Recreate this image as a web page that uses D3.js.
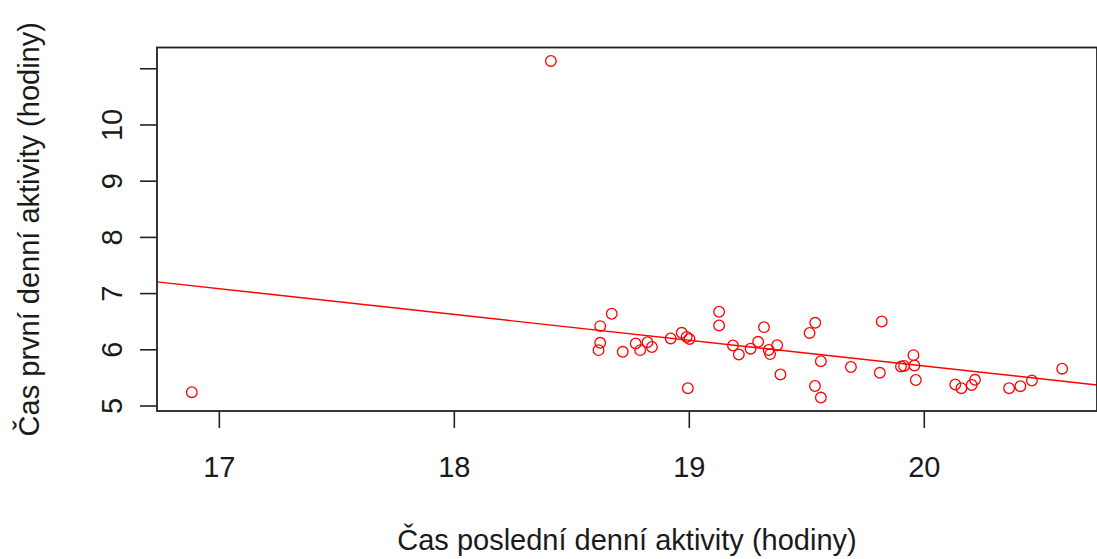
<!DOCTYPE html>
<html>
<head>
<meta charset="utf-8">
<script src="https://cdn.jsdelivr.net/npm/d3@7/dist/d3.min.js"></script>
<style>
  html, body { margin: 0; padding: 0; background: #fff; }
  svg { display: block; }
  text { font-family: "Liberation Sans", Arial, sans-serif; fill: #1a1a1a; }
</style>
</head>
<body>
<svg id="chart" width="1097" height="559"></svg>
<script>
// Time of last daily activity (hours)
const lastActivity = [
  16.885, 18.413, 18.616, 18.623, 18.623, 18.672, 18.719, 18.774, 18.793, 18.824,
  18.843, 18.923, 18.970, 18.991, 19.003, 18.996, 19.129, 19.129, 19.188, 19.213,
  19.263, 19.295, 19.320, 19.340, 19.346, 19.376, 19.390, 19.514, 19.538, 19.562,
  19.537, 19.562, 19.690, 19.821, 19.813, 19.903, 19.916, 19.956, 19.960, 19.966,
  20.134, 20.160, 20.204, 20.218, 20.363, 20.411, 20.460, 20.589
];
// Time of first daily activity (hours)
const firstActivity = [
  5.237, 11.130, 5.985, 6.116, 6.412, 6.633, 5.956, 6.104, 5.985, 6.127,
  6.041, 6.193, 6.294, 6.220, 6.184, 5.308, 6.668, 6.424, 6.068, 5.908,
  6.011, 6.134, 6.394, 5.988, 5.915, 6.072, 5.552, 6.291, 6.472, 5.789,
  5.347, 5.142, 5.685, 6.495, 5.582, 5.694, 5.703, 5.896, 5.712, 5.454,
  5.374, 5.308, 5.365, 5.458, 5.308, 5.344, 5.445, 5.655
];
const xTicks = [17, 18, 19, 20];
const yTicks = [5, 6, 7, 8, 9, 10, 11];
const yTickLabels = ["5", "6", "7", "8", "9", "10", ""];
const xTitle = "Čas poslední denní aktivity (hodiny)";
const yTitle = "Čas první denní aktivity (hodiny)";

const svg = d3.select("#chart");
const plot = { left: 157, right: 1097, top: 47.5, bottom: 411 };

// Axis ranges padded by 4% on each side of the data extent
function padded(ext) {
  const d = (ext[1] - ext[0]) * 0.04;
  return [ext[0] - d, ext[1] + d];
}
const x = d3.scaleLinear().domain(padded(d3.extent(lastActivity))).range([plot.left, plot.right]);
const y = d3.scaleLinear().domain(padded(d3.extent(firstActivity))).range([plot.bottom, plot.top]);

const data = lastActivity.map((v, i) => ({ x: v, y: firstActivity[i] }));

// Least-squares fit of first vs last activity
const mx = d3.mean(lastActivity), my = d3.mean(firstActivity);
let sxy = 0, sxx = 0;
data.forEach(d => { sxy += (d.x - mx) * (d.y - my); sxx += (d.x - mx) ** 2; });
const slope = sxy / sxx;
const intercept = my - slope * mx;

const clip = svg.append("clipPath").attr("id", "plotclip")
  .append("rect")
  .attr("x", plot.left).attr("y", plot.top)
  .attr("width", plot.right - plot.left).attr("height", plot.bottom - plot.top);

// Points
svg.append("g")
  .selectAll("circle")
  .data(data)
  .join("circle")
  .attr("cx", d => x(d.x))
  .attr("cy", d => y(d.y))
  .attr("r", 5.3)
  .attr("fill", "none")
  .attr("stroke", "#ff0000")
  .attr("stroke-width", 1.3);

// Regression line
const xd = x.domain();
svg.append("line")
  .attr("clip-path", "url(#plotclip)")
  .attr("x1", x(xd[0])).attr("y1", y(intercept + slope * xd[0]))
  .attr("x2", x(xd[1])).attr("y2", y(intercept + slope * xd[1]))
  .attr("stroke", "#ff0000")
  .attr("stroke-width", 1.4);

// Bottom axis
const xAxis = svg.append("g")
  .attr("transform", `translate(0,${plot.bottom})`)
  .call(d3.axisBottom(x).tickValues(xTicks).tickSize(17).tickFormat(d3.format("d")));
xAxis.select(".domain").remove();
xAxis.selectAll("line").attr("stroke", "#222").attr("stroke-width", 1.6);
xAxis.selectAll("text")
  .attr("y", 0).attr("dy", null)
  .attr("transform", "translate(0,66)")
  .style("font-size", "29px").attr("fill", "#1a1a1a");

// Left axis with rotated labels
const yAxis = svg.append("g")
  .attr("transform", `translate(${plot.left},0)`)
  .call(d3.axisLeft(y).tickValues(yTicks).tickSize(17).tickFormat((d, i) => yTickLabels[i]));
yAxis.select(".domain").remove();
yAxis.selectAll("line").attr("stroke", "#222").attr("stroke-width", 1.6);
yAxis.selectAll("text")
  .attr("x", null).attr("dy", null)
  .attr("text-anchor", "middle")
  .attr("transform", "translate(-35,0) rotate(-90)")
  .style("font-size", "29px").attr("fill", "#1a1a1a");

// Plot frame
svg.append("rect")
  .attr("x", plot.left).attr("y", plot.top)
  .attr("width", plot.right - plot.left).attr("height", plot.bottom - plot.top)
  .attr("fill", "none").attr("stroke", "#222").attr("stroke-width", 1.8);

// Axis titles
svg.append("text")
  .attr("x", (plot.left + plot.right) / 2).attr("y", 550)
  .attr("text-anchor", "middle")
  .style("font-size", "29px")
  .text(xTitle);

svg.append("text")
  .attr("transform", `translate(39,${(plot.top + plot.bottom) / 2}) rotate(-90)`)
  .attr("text-anchor", "middle")
  .style("font-size", "29px")
  .text(yTitle);
</script>
</body>
</html>
